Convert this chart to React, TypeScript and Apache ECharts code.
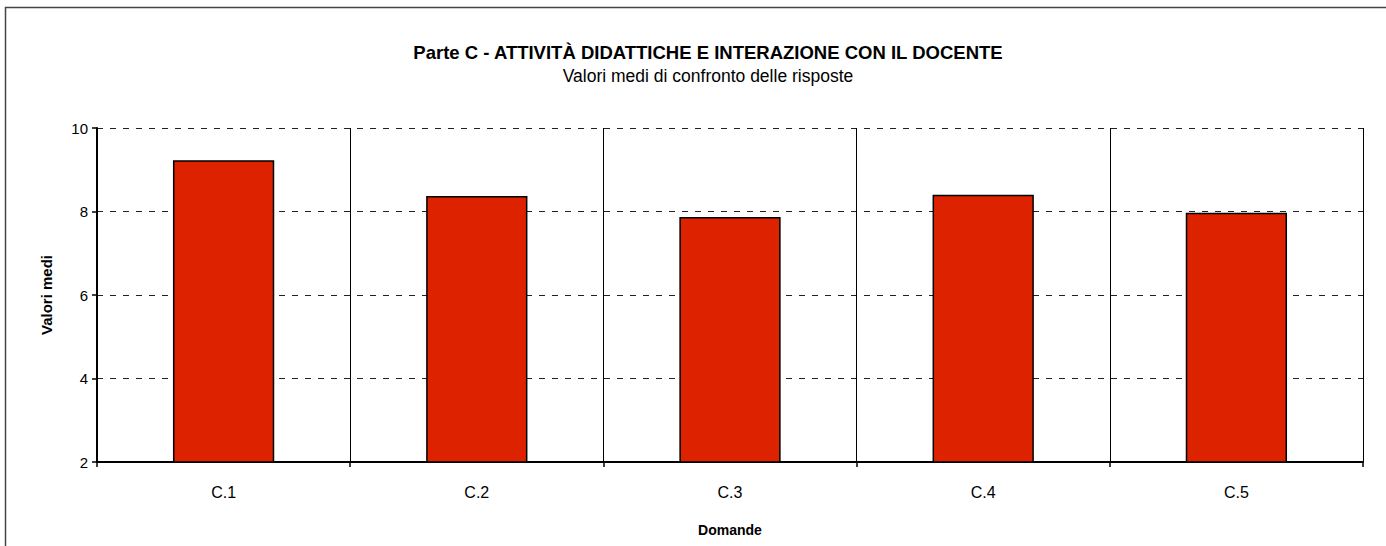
import React, { useEffect, useRef } from "react";
import * as echarts from "echarts";

const categories = ["C.1", "C.2", "C.3", "C.4", "C.5"];
const values = [9.23, 8.37, 7.87, 8.4, 7.97];
const yTicks = { min: 2, max: 10, interval: 2 };

const FONT = "'Liberation Sans', Arial, sans-serif";

export default function App() {
  const ref = useRef<HTMLDivElement>(null);
  useEffect(() => {
    const chart = echarts.init(ref.current!, null, { renderer: "svg" });
    chart.setOption({
      animation: false,
      backgroundColor: "#ffffff",
      textStyle: { fontFamily: FONT },
      title: {
        text: "Parte C - ATTIVITÀ DIDATTICHE E INTERAZIONE CON IL DOCENTE",
        subtext: "Valori medi di confronto delle risposte",
        left: 703,
        textAlign: "center",
        top: 38,
        itemGap: 5,
        textStyle: { fontFamily: FONT, fontSize: 18.5, fontWeight: "bold", color: "#000" },
        subtextStyle: { fontFamily: FONT, fontSize: 17.5, color: "#000" },
      },
      graphic: [
        {
          type: "rect",
          shape: { x: 5.5, y: 7.5, width: 1400, height: 600 },
          style: { fill: "none", stroke: "#444", lineWidth: 1.5 },
          silent: true,
          z: -1,
        },
      ],
      grid: { left: 97, right: 23, top: 128, bottom: 84, containLabel: false },
      xAxis: {
        type: "category",
        data: categories,
        name: "Domande",
        nameLocation: "middle",
        nameGap: 61,
        nameTextStyle: { fontFamily: FONT, fontSize: 14, fontWeight: "bold", color: "#000" },
        axisLine: { show: true, lineStyle: { color: "#000", width: 2 } },
        axisTick: { show: true, alignWithLabel: false, length: 5, lineStyle: { color: "#000", width: 1.5 } },
        axisLabel: { fontFamily: FONT, fontSize: 16, color: "#000", margin: 22 },
        splitLine: { show: true, lineStyle: { color: "#000", width: 1 } },
      },
      yAxis: {
        type: "value",
        min: yTicks.min,
        max: yTicks.max,
        interval: yTicks.interval,
        name: "Valori medi",
        nameLocation: "middle",
        nameGap: 43,
        nameTextStyle: { fontFamily: FONT, fontSize: 15, fontWeight: "bold", color: "#000" },
        axisLine: { show: true, lineStyle: { color: "#000", width: 2 } },
        axisTick: { show: true, length: 5, lineStyle: { color: "#000", width: 1.5 } },
        axisLabel: { fontFamily: FONT, fontSize: 15, color: "#000", margin: 9 },
        splitLine: { show: true, lineStyle: { color: "#222", type: [6, 7], width: 1 } },
      },
      series: [
        {
          type: "bar",
          data: values,
          barWidth: "40%",
          itemStyle: { color: "#dd2200", borderColor: "#000", borderWidth: 1.5 },
        },
      ],
    });
    return () => chart.dispose();
  }, []);
  return (
    <div
      ref={ref}
      style={{ position: "fixed", left: 0, top: 0, width: 1386, height: 546 }}
    />
  );
}
